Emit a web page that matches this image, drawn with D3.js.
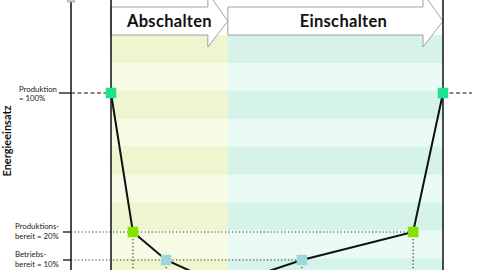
<!DOCTYPE html>
<html><head><meta charset="utf-8">
<script src="https://cdn.jsdelivr.net/npm/d3@7"></script>
<style>html,body{margin:0;padding:0;background:#fff;overflow:hidden}svg{display:block}</style>
</head><body>
<script>
// Data
const times  = [0, 6.6, 16.6, 34, 57.5, 91, 100];
const levels = [100, 20, 10, 0, 10, 20, 100];
const levelValues = [100, 20, 10];
const levelLabels = [["Produktion", "= 100%"], ["Produktions-", "bereit = 20%"], ["Betriebs-", "bereit = 10%"]];
const levelColors = ["#1ee28f", "#86e000", "#9fd6da"];
const phaseNames = ["Abschalten", "Einschalten"];
const phaseBounds = [0, 35.2, 100];
const yLabel = "Energieeinsatz";

const W = 480, H = 270;
const svg = d3.select("body").append("svg").attr("width", W).attr("height", H);

const x = d3.scaleLinear().domain([0, 100]).range([111, 443]);
const y = d3.scaleLinear().domain([0, 10, 20, 100]).range([286, 260, 232, 93]);
const axisX = 71;
const bandTop = 35;

// background stripes per phase
const stripeH = 27.9;
const stripeColors = [["#eef6d0", "#f6fbe6"], ["#d5f3e9", "#eafaf4"]];
phaseNames.forEach((p, i) => {
  const x0 = x(phaseBounds[i]), x1 = x(phaseBounds[i + 1]);
  d3.range(0, 10).forEach(k => {
    svg.append("rect").attr("x", x0).attr("y", bandTop + k * stripeH)
      .attr("width", x1 - x0).attr("height", stripeH + 0.5)
      .attr("fill", stripeColors[i][k % 2]);
  });
});

// phase arrows
const boxTop = 7, boxBot = 35, headTop = -7, headBot = 47, headLen = 20;
phaseNames.forEach((p, i) => {
  const x0 = x(phaseBounds[i]), x1 = x(phaseBounds[i + 1]);
  const xm = x1 - headLen, cy = (boxTop + boxBot) / 2;
  const pts = [[x0, boxTop], [xm, boxTop], [xm, headTop], [x1, cy], [xm, headBot], [xm, boxBot], [x0, boxBot]];
  svg.append("path").attr("d", "M" + pts.map(d => d.join(",")).join("L") + "Z")
    .attr("fill", "#fff").attr("stroke", "#8a8a8a").attr("stroke-width", 0.8);
  svg.append("text").attr("x", (x0 + x1) / 2 + (i === 0 ? 0 : 8)).attr("y", 27)
    .attr("text-anchor", "middle").attr("font-family", "Lato").attr("font-weight", "bold")
    .attr("font-size", 16.5).attr("letter-spacing", 0.3).attr("fill", "#111").text(p);
});

// vertical frame lines
svg.append("line").attr("x1", axisX).attr("x2", axisX).attr("y1", 0).attr("y2", H)
  .attr("stroke", "#111").attr("stroke-width", 1.5);
svg.append("path").attr("d", `M${axisX - 4},2L${axisX},-8L${axisX + 4},2Z`).attr("fill", "#ccc").attr("stroke", "#999").attr("stroke-width", 0.6);
[0, 100].forEach(t => {
  svg.append("line").attr("x1", x(t)).attr("x2", x(t)).attr("y1", 0).attr("y2", H)
    .attr("stroke", "#111").attr("stroke-width", 1.5);
});

// guides
levelValues.forEach((v, i) => {
  const yy = y(v);
  const tickStart = i === 0 ? 59 : 63;
  svg.append("line").attr("x1", tickStart).attr("x2", axisX).attr("y1", yy).attr("y2", yy)
    .attr("stroke", "#111").attr("stroke-width", 1.3);
  const idx = levels.map((l, j) => l === v ? j : -1).filter(j => j >= 0);
  if (v === 100) {
    svg.append("line").attr("x1", axisX).attr("x2", x(0)).attr("y1", yy).attr("y2", yy)
      .attr("stroke", "#111").attr("stroke-width", 1).attr("stroke-dasharray", "4,2.5");
    svg.append("line").attr("x1", x(100)).attr("x2", x(100) + 29).attr("y1", yy).attr("y2", yy)
      .attr("stroke", "#111").attr("stroke-width", 1).attr("stroke-dasharray", "4,2.5");
  } else {
    const xEnd = x(d3.max(idx, j => times[j]));
    svg.append("line").attr("x1", axisX).attr("x2", xEnd).attr("y1", yy).attr("y2", yy)
      .attr("stroke", "#333").attr("stroke-width", 1.2).attr("stroke-dasharray", "1.2,2.3");
    idx.forEach(j => {
      svg.append("line").attr("x1", x(times[j])).attr("x2", x(times[j])).attr("y1", yy).attr("y2", H)
        .attr("stroke", "#333").attr("stroke-width", 1.2).attr("stroke-dasharray", "1.2,2.3");
    });
  }
  const lab = svg.append("text").attr("font-family", "Lato").attr("font-size", 7.8).attr("fill", "#222");
  const lx = i === 0 ? 19 : 15;
  const base = i === 0 ? yy - 1.5 : yy - 3;
  lab.append("tspan").attr("x", lx).attr("y", base).text(levelLabels[i][0]);
  lab.append("tspan").attr("x", lx).attr("y", base + 9.8).text(levelLabels[i][1]);
});

// line
const pts = times.map((t, i) => [t, levels[i]]);
svg.append("path").datum(pts)
  .attr("d", d3.line().x(d => x(d[0])).y(d => y(d[1])))
  .attr("fill", "none").attr("stroke", "#111").attr("stroke-width", 2);

// markers
const sz = 10.5;
svg.selectAll("rect.pt").data(pts.filter(d => levelValues.includes(d[1]))).enter().append("rect")
  .attr("class", "pt")
  .attr("x", d => x(d[0]) - sz / 2).attr("y", d => y(d[1]) - sz / 2)
  .attr("width", sz).attr("height", sz)
  .attr("fill", d => levelColors[levelValues.indexOf(d[1])]);

// y label
svg.append("text").attr("transform", "translate(11,141) rotate(-90)")
  .attr("text-anchor", "middle").attr("font-family", "Lato").attr("font-weight", "bold")
  .attr("font-size", 11).attr("fill", "#111").text(yLabel);
</script>
</body></html>
